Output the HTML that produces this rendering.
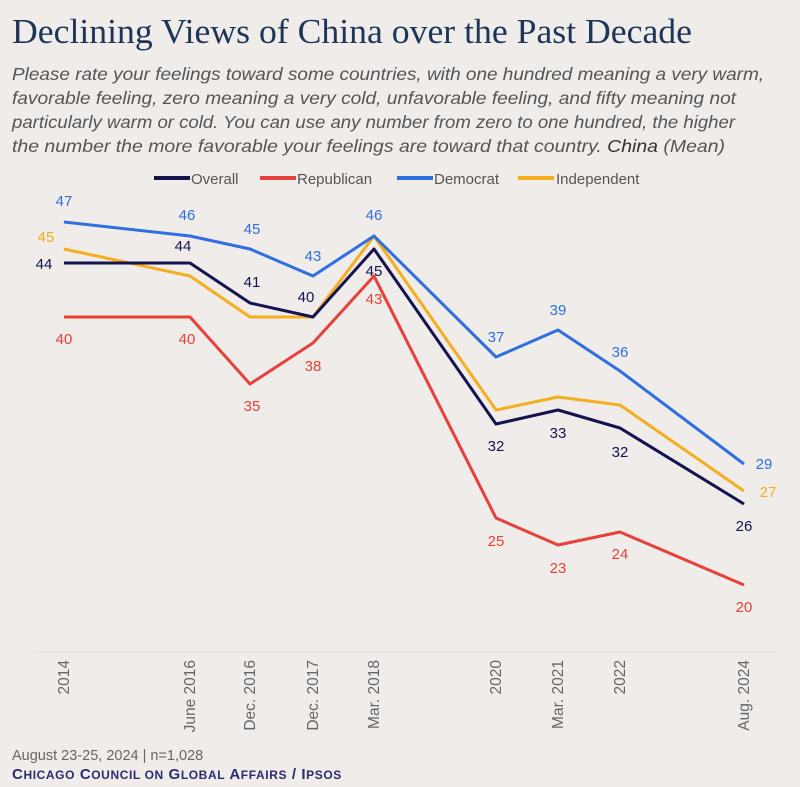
<!DOCTYPE html>
<html><head><meta charset="utf-8"><style>
html,body{margin:0;padding:0;background:#efecea;}
svg{display:block;}
</style></head><body>
<svg width="800" height="787" viewBox="0 0 800 787" xmlns="http://www.w3.org/2000/svg">
<rect width="800" height="787" fill="#efecea"/>
<text x="12" y="43" font-family="Liberation Serif, serif" font-size="35" fill="#1d3557" textLength="680" lengthAdjust="spacingAndGlyphs">Declining Views of China over the Past Decade</text>
<g font-family="Liberation Sans, sans-serif" font-size="17.5" font-style="italic" fill="#555" lengthAdjust="spacingAndGlyphs">
<text x="12" y="80" textLength="752" lengthAdjust="spacingAndGlyphs">Please rate your feelings toward some countries, with one hundred meaning a very warm,</text>
<text x="12" y="104" textLength="724" lengthAdjust="spacingAndGlyphs">favorable feeling, zero meaning a very cold, unfavorable feeling, and fifty meaning not</text>
<text x="12" y="128" textLength="723" lengthAdjust="spacingAndGlyphs">particularly warm or cold. You can use any number from zero to one hundred, the higher</text>
<text x="12" y="152" textLength="713" lengthAdjust="spacingAndGlyphs">the number the more favorable your feelings are toward that country. <tspan fill="#333">China</tspan> (Mean)</text>
</g>
<g font-family="Liberation Sans, sans-serif" font-size="15" fill="#555">
<line x1="154" y1="178" x2="190" y2="178" stroke="#14124f" stroke-width="4"/><text x="191" y="184">Overall</text>
<line x1="260" y1="178" x2="296" y2="178" stroke="#e8403a" stroke-width="4"/><text x="297" y="184">Republican</text>
<line x1="397" y1="178" x2="433" y2="178" stroke="#2f6fe0" stroke-width="4"/><text x="434" y="184">Democrat</text>
<line x1="518" y1="178" x2="554" y2="178" stroke="#f5ae1f" stroke-width="4"/><text x="556" y="184">Independent</text>
</g>
<line x1="34" y1="652" x2="780" y2="652" stroke="#e2dfdc" stroke-width="1"/>
<g fill="none" stroke-width="3" stroke-linejoin="round">
<polyline stroke="#f5ae1f" points="64,249 190,276 250,317 313,317 374,236 496,410 558,397 620,405 744,491"/>
<polyline stroke="#14124f" points="64,263 190,263 250,303 313,317 374,249 496,424 558,410 620,428 744,504"/>
<polyline stroke="#e8403a" points="64,317 190,317 250,384 313,343 374,276 496,518 558,545 620,532 744,585"/>
<polyline stroke="#2f6fe0" points="64,222 190,236 250,249 313,276 374,236 496,357 558,330 620,371 744,464"/>
</g>
<g font-family="Liberation Sans, sans-serif" font-size="15" text-anchor="middle">
<g fill="#2f6fe0">
<text x="64" y="206">47</text><text x="187" y="220">46</text><text x="252" y="234">45</text><text x="313" y="261">43</text><text x="374" y="220">46</text><text x="496" y="342">37</text><text x="558" y="315">39</text><text x="620" y="357">36</text><text x="764" y="469">29</text>
</g>
<g fill="#f5ae1f"><text x="46" y="242">45</text><text x="768" y="497">27</text></g>
<g fill="#14124f">
<text x="44" y="269">44</text><text x="183" y="251">44</text><text x="252" y="287">41</text><text x="306" y="302">40</text><text x="374" y="276">45</text><text x="496" y="451">32</text><text x="558" y="438">33</text><text x="620" y="457">32</text><text x="744" y="531">26</text>
</g>
<g fill="#e8403a">
<text x="64" y="344">40</text><text x="187" y="344">40</text><text x="252" y="411">35</text><text x="313" y="371">38</text><text x="374" y="304">43</text><text x="496" y="546">25</text><text x="558" y="573">23</text><text x="620" y="559">24</text><text x="744" y="612">20</text>
</g>
</g>
<g font-family="Liberation Sans, sans-serif" font-size="15.5" fill="#666" text-anchor="end">
<text transform="translate(69,660) rotate(-90)">2014</text>
<text transform="translate(195,660) rotate(-90)">June 2016</text>
<text transform="translate(255,660) rotate(-90)">Dec. 2016</text>
<text transform="translate(318,660) rotate(-90)">Dec. 2017</text>
<text transform="translate(379,660) rotate(-90)">Mar. 2018</text>
<text transform="translate(501,660) rotate(-90)">2020</text>
<text transform="translate(563,660) rotate(-90)">Mar. 2021</text>
<text transform="translate(625,660) rotate(-90)">2022</text>
<text transform="translate(749,660) rotate(-90)">Aug. 2024</text>
</g>
<text x="12" y="760" font-family="Liberation Sans, sans-serif" font-size="14.5" fill="#666">August 23-25, 2024 | n=1,028</text>
<text x="12" y="779" font-family="Liberation Sans, sans-serif" font-size="15" font-weight="bold" fill="#2a2c6e" letter-spacing="0.6">C<tspan font-size="12">HICAGO</tspan> C<tspan font-size="12">OUNCIL ON</tspan> G<tspan font-size="12">LOBAL</tspan> A<tspan font-size="12">FFAIRS</tspan> / I<tspan font-size="12">PSOS</tspan></text>
</svg>
</body></html>
